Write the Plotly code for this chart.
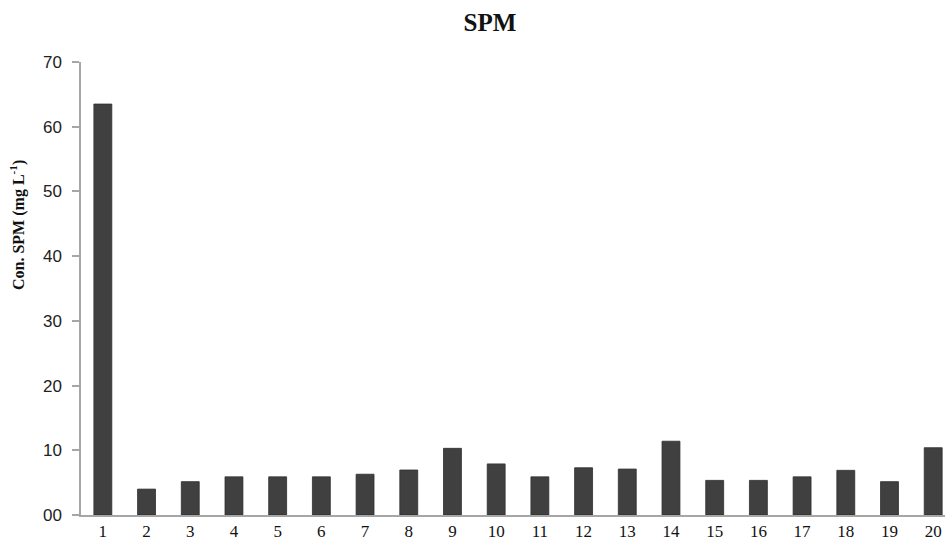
import plotly.graph_objects as go

# Sampling stations and suspended particulate matter concentrations
stations = list(range(1, 21))
spm = [63.5, 4.0, 5.15, 5.9, 5.9, 5.9, 6.3, 6.95, 10.3, 7.9,
       5.9, 7.3, 7.1, 11.4, 5.35, 5.35, 5.9, 6.9, 5.15, 10.4]

y_ticks = [0, 10, 20, 30, 40, 50, 60, 70]
y_tick_text = ["00", "10", "20", "30", "40", "50", "60", "70"]

fig = go.Figure(
    go.Bar(
        x=stations,
        y=spm,
        width=0.41,
        marker=dict(color="#404040", line=dict(color="#2e2e2e", width=0.8)),
    )
)

fig.update_layout(
    width=945,
    height=546,
    margin=dict(l=81, r=0, t=62, b=31),
    paper_bgcolor="white",
    plot_bgcolor="white",
    showlegend=False,
    title=dict(
        text="<b>SPM</b>",
        x=490 / 945,
        xref="container",
        xanchor="center",
        y=1 - 22 / 546,
        yref="container",
        yanchor="middle",
        font=dict(family="Liberation Serif", size=25, color="#111111"),
    ),
    xaxis=dict(
        range=[0.5, 20.27],
        tickmode="array",
        tickvals=stations,
        ticktext=[str(s) for s in stations],
        showgrid=False,
        zeroline=False,
        showline=True,
        linecolor="#a6a6a6",
        linewidth=1.5,
        ticks="",
        tickfont=dict(family="Liberation Serif", size=17, color="#111111"),
    ),
    yaxis=dict(
        range=[0, 70],
        tickmode="array",
        tickvals=y_ticks,
        ticktext=y_tick_text,
        showgrid=False,
        zeroline=False,
        showline=True,
        linecolor="#a6a6a6",
        linewidth=1.5,
        ticks="outside",
        ticklen=7,
        tickcolor="#a6a6a6",
        tickwidth=1.5,
        ticklabelstandoff=7,
        tickfont=dict(family="Liberation Sans", size=17, color="#222222"),
    ),
    annotations=[
        dict(
            text="<b>Con. SPM (mg L<sup>-1</sup>)</b>",
            xref="paper",
            yref="paper",
            x=-81 / 864 + 18 / 864,
            y=(515 - 225) / 453,
            xanchor="center",
            yanchor="middle",
            textangle=-90,
            showarrow=False,
            font=dict(family="Liberation Serif", size=16, color="#111111"),
        )
    ],
)

fig.write_html("out.html")
